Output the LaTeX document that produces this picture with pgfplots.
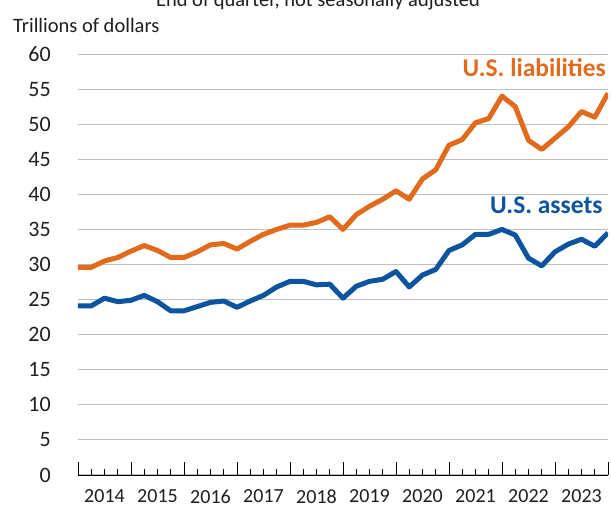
\documentclass[border=0pt]{standalone}
\usepackage{pgfplots}
\pgfplotsset{compat=1.18}
\usepackage{fontspec}
\setmainfont{Carlito}
\definecolor{liab}{RGB}{226,106,29}
\definecolor{asset}{RGB}{12,84,160}
\definecolor{gridc}{RGB}{191,191,191}
\definecolor{txt}{RGB}{30,30,30}
\begin{document}
\begin{tikzpicture}
\path[use as bounding box] (-78bp,-33bp) rectangle (533bp,475bp);
\begin{axis}[
  at={(0,0)}, anchor=south west,
  scale only axis, width=530bp, height=421bp,
  xmin=0, xmax=40, ymin=0, ymax=60,
  axis x line=bottom, axis y line=left,
  axis line style={-},
  x axis line style={black, line width=0.8bp},
  y axis line style={draw=none},
  /pgf/number format/assume math mode=true,
  xtick={0,4,...,40}, xticklabels={},
  minor xtick={0,...,40},
  major tick length=13bp, minor tick length=6bp,
  tick align=inside,
  xtick style={black, line width=0.8bp},
  extra x ticks={2,6,...,38},
  extra x tick labels={2014,2015,2016,2017,2018,2019,2020,2021,2022,2023},
  extra x tick style={major tick length=0pt, grid=none,
     xticklabel style={anchor=north, inner sep=0pt, yshift=-14.5bp}},
  xticklabel style={font=\fontsize{20bp}{24bp}\selectfont, text=txt},
  ytick={0,5,...,60},
  ytick style={draw=none},
  yticklabel style={font=\fontsize{22bp}{26bp}\selectfont, text=txt, anchor=east, inner sep=0pt, xshift=-27bp},
  ymajorgrids, grid style={gridc, line width=1bp},
  every axis plot/.append style={line width=5bp, line join=round, line cap=butt},
]
\addplot[liab, no markers] coordinates {
(0,29.6)(1,29.6)(2,30.5)(3,31.0)(4,31.9)(5,32.7)(6,32.0)(7,31.0)(8,31.0)(9,31.8)
(10,32.8)(11,33.0)(12,32.2)(13,33.3)(14,34.3)(15,35.0)(16,35.6)(17,35.6)(18,36.0)(19,36.8)
(20,35.0)(21,37.1)(22,38.3)(23,39.3)(24,40.5)(25,39.3)(26,42.2)(27,43.5)(28,47.0)(29,47.8)
(30,50.2)(31,50.8)(32,54.0)(33,52.5)(34,47.7)(35,46.4)(36,48.0)(37,49.6)(38,51.8)(39,51.0)(40,54.4)};
\addplot[asset, no markers] coordinates {
(0,24.1)(1,24.1)(2,25.2)(3,24.7)(4,24.9)(5,25.6)(6,24.7)(7,23.4)(8,23.4)(9,24.0)
(10,24.6)(11,24.8)(12,23.9)(13,24.8)(14,25.6)(15,26.8)(16,27.6)(17,27.6)(18,27.1)(19,27.2)
(20,25.2)(21,26.9)(22,27.6)(23,27.9)(24,29.0)(25,26.8)(26,28.5)(27,29.3)(28,32.0)(29,32.8)
(30,34.3)(31,34.3)(32,35.0)(33,34.2)(34,30.9)(35,29.8)(36,31.8)(37,32.9)(38,33.6)(39,32.6)(40,34.5)};
\node[anchor=base east, inner sep=0pt, text=liab, font=\fontsize{25.5bp}{29bp}\selectfont\bfseries] at (axis cs:39.85,56.77) {U.S. liabilities};
\node[anchor=base east, inner sep=0pt, text=asset, font=\fontsize{25.5bp}{29bp}\selectfont\bfseries] at (axis cs:39.6,37.2) {U.S. assets};
\end{axis}
\node[anchor=base west, inner sep=0pt, text=txt, font=\fontsize{20.5bp}{24bp}\selectfont] at (-65bp,442bp) {Trillions of dollars};
\node[anchor=base, inner sep=0pt, text=txt, font=\fontsize{20.5bp}{24bp}\selectfont] at (240bp,468bp) {End of quarter, not seasonally adjusted};
\end{tikzpicture}
\end{document}
